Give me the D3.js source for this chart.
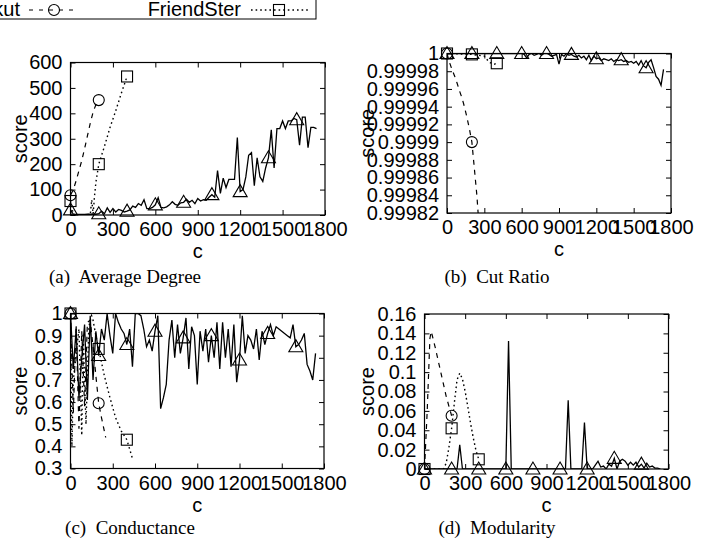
<!DOCTYPE html>
<html lang="en">
<head>
<meta charset="UTF-8">
<title>Community scores against c</title>
<script src="https://d3js.org/d3.v7.min.js"></script>
<style>
  body { margin: 0; background: #fff; }
  svg { display: block; }
  text { font-family: "Liberation Sans", Arial, sans-serif; fill: #000; }
  .caption { font-family: "Liberation Serif", "Times New Roman", serif; }
</style>
</head>
<body>
<svg id="chart" width="704" height="544"></svg>
<script>
// x grid of the solid series (every 20)
const cValues = [0,20,40,60,80,100,120,140,160,180,
  200,220,240,260,280,300,320,340,360,380,
  400,420,440,460,480,500,520,540,560,580,
  600,620,640,660,680,700,720,740,760,780,
  800,820,840,860,880,900,920,940,960,980,
  1000,1020,1040,1060,1080,1100,1120,1140,1160,1180,
  1200,1220,1240,1260,1280,1300,1320,1340,1360,1380,
  1400,1420,1440,1460,1480,1500,1520,1540,1560,1580,
  1600,1620,1640,1660,1680,1700,1720,1740];

// (a) average degree
const degreeSolid = [20,3,2,2,2,2,3,3,4,3,
  5,15,5,28,10,25,12,22,18,12,
  15,20,35,30,45,38,60,25,25,30,
  40,68,30,28,32,40,52,42,38,48,
  50,62,50,58,45,65,55,60,58,70,
  80,70,175,85,145,108,140,140,140,305,
  92,100,150,235,245,115,225,150,132,185,
  225,335,185,340,340,370,340,370,370,380,
  375,275,385,385,265,345,345,340];
const degreeOrkutX = [0,20,40,60,80,100,120,140,160,180,200];
const degreeOrkutY = [78,100,135,175,215,262,312,362,405,435,452];
const degreeFriendX = [0,20,60,100,140,150,160,170,180,200,240,280,320,360,400];
const degreeFriendY = [55,2,1,1,2,60,5,75,130,200,270,345,410,480,545];

// (b) cut ratio
const cutSolid = [1,1,1,1,1,1,1,1,1,1,
  1,1,1,1,1,1,1,1,1,1,
  1,1,1,1,1,1,1,1,1,1,
  1,0.999999,0.999995,0.999999,1,0.999998,0.999999,1,0.999998,1,
  1,0.999999,0.999997,0.999998,0.999999,0.999988,0.999999,0.999997,1,0.999998,
  0.999999,0.999997,0.999996,0.999998,0.999995,0.999997,0.999993,0.999998,0.999992,0.999997,
  0.999994,0.999995,0.999992,0.999994,0.999993,0.999992,0.999994,0.999991,0.999993,0.999992,
  0.999993,0.999991,0.999992,0.99999,0.999991,0.999989,0.999991,0.999987,0.999992,0.999986,
  0.999984,0.99999,0.999993,0.999984,0.999974,0.999971,0.999964,0.999982];
const cutOrkutX = [0,20,40,60,80,100,120,140,160,180,200,220,240,260];
const cutOrkutY = [1,0.99999,0.999982,0.999975,0.999967,0.999958,0.99995,0.99994,0.999928,0.999915,0.9999,0.99987,0.99984,0.9998];
const cutFriendX = [0,200,300,340,380,400];
const cutFriendY = [1,0.999999,0.999997,0.99999,0.999988,0.999989];

// (c) conductance
const condSolid = [1.0,0.75,0.93,0.62,0.80,0.95,0.61,0.99,0.70,0.92,
  0.81,0.93,0.88,1.0,0.90,0.82,1.0,0.96,0.93,0.91,
  0.86,0.93,0.76,1.0,1.0,0.99,0.93,0.85,0.88,0.83,
  0.92,0.99,0.57,0.62,0.68,0.88,0.97,0.80,0.95,0.82,
  0.89,0.98,0.75,0.94,0.90,0.68,0.92,0.83,0.93,0.78,
  0.90,0.80,0.96,0.75,0.96,0.80,0.93,0.76,0.95,0.69,
  0.79,0.99,0.82,0.90,0.88,0.84,0.93,0.79,0.92,0.86,
  0.91,0.95,0.90,0.94,0.93,0.92,0.91,0.90,0.89,0.95,
  0.85,0.86,0.88,0.91,0.77,0.74,0.70,0.82];
const condOrkutX = [0,20,40,60,80,100,120,140,160,180,200,220,240,250];
const condOrkutY = [1.0,0.55,0.95,0.48,0.92,0.58,0.96,0.97,0.85,0.72,0.595,0.53,0.47,0.44];
const condFriendX = [0,10,20,60,80,90,110,130,150,160,180,200,240,280,320,360,400,440];
const condFriendY = [1.0,0.40,0.70,0.93,0.45,0.91,0.50,0.94,0.99,0.97,0.90,0.84,0.72,0.62,0.53,0.47,0.43,0.345];

// (d) modularity
const modSolid = [0,0,0,0,0,0,0,0,0,0,
  0,0,0,0.025,0,0,0,0,0,0,
  0,0,0,0,0,0,0,0,0,0,
  0,0.132,0,0,0,0,0,0,0,0,
  0,0,0,0,0,0,0,0,0,0,
  0,0,0,0.071,0,0,0,0,0,0.048,
  0,0,0,0.004,0.008,0.002,0.003,0,0.005,0.003,
  0.011,0,0.008,0.010,0.008,0.004,0.007,0.004,0.007,0.002,
  0.005,0.001,0.006,0.002,0.003,0.001,0.001,0];
const modOrkutX = [0,20,40,50,80,120,160,200];
const modOrkutY = [0,0.06,0.135,0.142,0.125,0.1,0.075,0.055];
const modFriendX = [0,140,160,180,200,220,240,260,280,300,320,340,360,380,400];
const modFriendY = [0,0,0.006,0.022,0.042,0.068,0.092,0.099,0.093,0.08,0.064,0.047,0.032,0.019,0.01];

// axes
const xTicks = [0,300,600,900,1200,1500,1800];
const degreeTicks = [0,100,200,300,400,500,600];
const cutTicks = [0.99982,0.99984,0.99986,0.99988,0.9999,0.99992,0.99994,0.99996,0.99998,1];
const cutTickLabels = ["0.99982","0.99984","0.99986","0.99988","0.9999","0.99992","0.99994","0.99996","0.99998","1"];
const condTicks = [0.3,0.4,0.5,0.6,0.7,0.8,0.9,1];
const condTickLabels = ["0.3","0.4","0.5","0.6","0.7","0.8","0.9","1"];
const modTicks = [0,0.02,0.04,0.06,0.08,0.1,0.12,0.14,0.16];
const modTickLabels = ["0","0.02","0.04","0.06","0.08","0.1","0.12","0.14","0.16"];

const legendNames = ["Orkut", "FriendSter"];

const panels = [
  {left: 70.5, right: 325, top: 62.5, bottom: 215, domain: [0, 600], ticks: degreeTicks,
   labels: degreeTicks.map(String), solid: degreeSolid,
   ox: degreeOrkutX, oy: degreeOrkutY, fx: degreeFriendX, fy: degreeFriendY,
   caption: "(a)  Average Degree", capX: 125, capY: 283, scoreX: 20},
  {left: 447, right: 671, top: 53.5, bottom: 213, domain: [0.99982, 1], ticks: cutTicks,
   labels: cutTickLabels, solid: cutSolid,
   ox: cutOrkutX, oy: cutOrkutY, fx: cutFriendX, fy: cutFriendY,
   caption: "(b)  Cut Ratio", capX: 497, capY: 283, scoreX: 367},
  {left: 70.5, right: 324, top: 313.5, bottom: 468.5, domain: [0.3, 1], ticks: condTicks,
   labels: condTickLabels, solid: condSolid,
   ox: condOrkutX, oy: condOrkutY, fx: condFriendX, fy: condFriendY,
   caption: "(c)  Conductance", capX: 130, capY: 534, scoreX: 20},
  {left: 424.5, right: 668.5, top: 314, bottom: 469, domain: [0, 0.16], ticks: modTicks,
   labels: modTickLabels, solid: modSolid,
   ox: modOrkutX, oy: modOrkutY, fx: modFriendX, fy: modFriendY,
   caption: "(d)  Modularity", capX: 497, capY: 534, scoreX: 367}
];

const svg = d3.select("#chart");
const fontSize = 20;

function triangle(g, cx, cy) {
  g.append("path")
    .attr("d", `M${cx - 7},${cy + 5}L${cx + 7},${cy + 5}L${cx},${cy - 7}Z`)
    .attr("fill", "none").attr("stroke", "#000").attr("stroke-width", 1.1);
}
function square(g, cx, cy) {
  g.append("rect").attr("x", cx - 5.5).attr("y", cy - 5.5)
    .attr("width", 11).attr("height", 11)
    .attr("fill", "none").attr("stroke", "#000").attr("stroke-width", 1.1);
}
function circle(g, cx, cy) {
  g.append("circle").attr("cx", cx).attr("cy", cy).attr("r", 5.5)
    .attr("fill", "none").attr("stroke", "#000").attr("stroke-width", 1.1);
}

panels.forEach((p, k) => {
  const x = d3.scaleLinear().domain([0, 1800]).range([p.left, p.right]);
  const y = d3.scaleLinear().domain(p.domain).range([p.bottom, p.top]);
  const g = svg.append("g");

  const clipId = "clip" + k;
  svg.append("clipPath").attr("id", clipId).append("rect")
    .attr("x", p.left).attr("y", p.top)
    .attr("width", p.right - p.left).attr("height", p.bottom - p.top);

  // axes (ticks point inward, mirrored)
  const xb = g.append("g").attr("transform", `translate(0,${p.bottom})`)
    .call(d3.axisBottom(x).tickValues(xTicks).tickSize(-5).tickPadding(7)
      .tickFormat(d3.format("d")));
  g.append("g").attr("transform", `translate(0,${p.top})`)
    .call(d3.axisTop(x).tickValues(xTicks).tickSize(-5).tickFormat(""));
  g.append("g").attr("transform", `translate(${p.left},0)`)
    .call(d3.axisLeft(y).tickValues(p.ticks).tickSize(-5).tickPadding(8)
      .tickFormat((d, i) => p.labels[i]));
  g.append("g").attr("transform", `translate(${p.right},0)`)
    .call(d3.axisRight(y).tickValues(p.ticks).tickSize(-5).tickFormat(""));
  g.selectAll(".domain").remove();
  g.selectAll(".tick line").attr("stroke", "#000").attr("stroke-width", 1);
  g.selectAll(".tick text").attr("font-size", fontSize)
    .attr("font-family", '"Liberation Sans", Arial, sans-serif');
  xb.selectAll(".tick text").attr("dy", "0.71em");

  const line = d3.line().x(d => x(d[0])).y(d => y(d[1]));
  const lines = g.append("g").attr("clip-path", `url(#${clipId})`);

  const solidPts = cValues.map((c, i) => [c, p.solid[i]]);
  const orkutPts = p.ox.map((c, i) => [c, p.oy[i]]);
  const friendPts = p.fx.map((c, i) => [c, p.fy[i]]);

  lines.append("path").datum(solidPts).attr("d", line)
    .attr("fill", "none").attr("stroke", "#000").attr("stroke-width", 1.3);
  lines.append("path").datum(orkutPts).attr("d", line)
    .attr("fill", "none").attr("stroke", "#000").attr("stroke-width", 1.2)
    .attr("stroke-dasharray", "5,5");
  lines.append("path").datum(friendPts).attr("d", line)
    .attr("fill", "none").attr("stroke", "#000").attr("stroke-width", 1.4)
    .attr("stroke-dasharray", "1.6,3");

  const marks = g.append("g");
  solidPts.filter(d => d[0] % 200 === 0 && d[0] <= 1600)
    .forEach(d => triangle(marks, x(d[0]), y(d[1])));
  orkutPts.filter(d => d[0] % 200 === 0 && y(d[1]) <= p.bottom)
    .forEach(d => circle(marks, x(d[0]), y(d[1])));
  friendPts.filter(d => d[0] % 200 === 0)
    .forEach(d => square(marks, x(d[0]), y(d[1])));

  // frame
  g.append("rect").attr("x", p.left).attr("y", p.top)
    .attr("width", p.right - p.left).attr("height", p.bottom - p.top)
    .attr("fill", "none").attr("stroke", "#000").attr("stroke-width", 1.2);

  // axis titles
  g.append("text").attr("transform", `translate(${p.scoreX + 7},${(p.top + p.bottom) / 2}) rotate(-90)`)
    .attr("text-anchor", "middle").attr("font-size", fontSize).text("score");
  g.append("text").attr("x", (p.left + p.right) / 2).attr("y", p.bottom + 43)
    .attr("text-anchor", "middle").attr("font-size", fontSize).text("c");

  g.append("text").attr("class", "caption").attr("x", p.capX).attr("y", p.capY)
    .attr("text-anchor", "middle").attr("font-size", 19)
    .attr("xml:space", "preserve").text(p.caption);
});

// key box at the top (its left part lies outside the page)
const key = svg.append("g");
key.append("rect").attr("x", -300).attr("y", -1).attr("width", 616).attr("height", 20)
  .attr("fill", "none").attr("stroke", "#000").attr("stroke-width", 1);
key.append("text").attr("x", 20).attr("y", 16).attr("text-anchor", "end")
  .attr("font-size", fontSize).text(legendNames[0]);
key.append("line").attr("x1", 29).attr("x2", 79).attr("y1", 10).attr("y2", 10)
  .attr("stroke", "#000").attr("stroke-width", 1.2).attr("stroke-dasharray", "4,6");
circle(key, 54, 10);
key.append("text").attr("x", 241).attr("y", 16).attr("text-anchor", "end")
  .attr("font-size", fontSize).text(legendNames[1]);
key.append("line").attr("x1", 251).attr("x2", 308).attr("y1", 10).attr("y2", 10)
  .attr("stroke", "#000").attr("stroke-width", 1.4).attr("stroke-dasharray", "1.6,3");
square(key, 279, 10);
</script>
</body>
</html>
